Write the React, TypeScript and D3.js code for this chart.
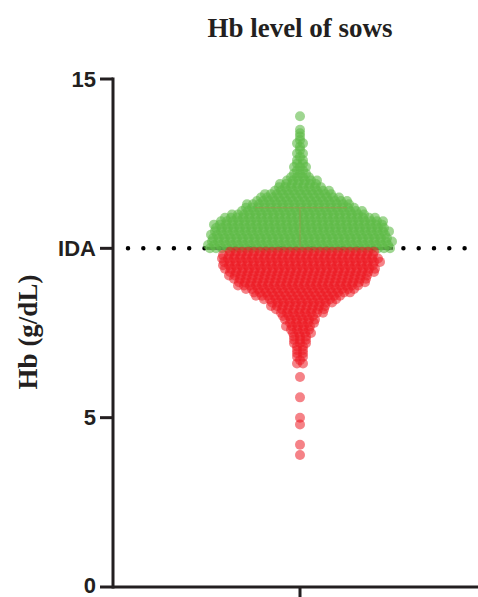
import React from 'react';
import * as d3 from 'd3';

const hbLevels = [
  13.9, 13.5, 13.4, 13.3, 13.2, 13.1, 13.0, 12.9, 12.8, 12.7, 12.6, 12.5, 12.4, 12.3, 12.2, 12.1,
  12.0, 11.9, 11.8, 11.7, 11.6, 11.5, 11.4, 11.3, 11.2, 11.1, 11.0, 10.9, 10.8, 10.7, 10.6, 10.5,
  10.4, 10.3, 10.2, 10.1, 10.0,
  9.9, 9.8, 9.7, 9.6, 9.5, 9.4, 9.3, 9.2, 9.1, 9.0, 8.9, 8.8, 8.7, 8.6, 8.5, 8.4, 8.3, 8.2, 8.1,
  8.0, 7.9, 7.8, 7.7, 7.6, 7.5, 7.4, 7.3, 7.2, 7.1, 7.0, 6.9, 6.8, 6.7, 6.6, 6.2, 5.6, 5.0, 4.8,
  4.2, 3.9,
];
const hbCounts = [
  1, 1, 1, 1, 1, 2, 1, 1, 2, 1, 2, 2, 3, 2, 3, 4,
  6, 7, 8, 10, 12, 14, 16, 18, 19, 21, 23, 26, 28, 29, 29, 30,
  30, 30, 31, 31, 31,
  25, 26, 27, 27, 26, 26, 25, 24, 23, 22, 21, 19, 17, 15, 13, 11, 10, 9, 8,
  6, 6, 5, 5, 4, 4, 3, 3, 3, 2, 2, 2, 2, 1, 2, 1, 1, 1, 1,
  1, 1,
];

const IDA = 10;
const yTicks = [0, 5, 10, 15];
const yTickLabels = ['0', '5', 'IDA', '15'];
const title = 'Hb level of sows';
const yTitle = 'Hb (g/dL)';

export default function App() {
  const width = 478;
  const height = 597;
  const axisX = 113;
  const centerX = 300;
  const y = d3.scaleLinear().domain([0, 15]).range([587, 79]);
  const r = 5;
  const step = 6;

  // lay each level out as a centred row, like Prism's scatter dot plot;
  // neighbouring rows are nudged so the dots don't line up in columns
  const nudge = [0, 2, -2];
  const dots: { cx: number; cy: number; v: number }[] = [];
  hbLevels.forEach((v, k) => {
    const n = hbCounts[k];
    const shift = n > 3 ? nudge[k % 3] : 0;
    for (let i = 0; i < n; i++) {
      dots.push({ cx: centerX + shift + (i - (n - 1) / 2) * step, cy: y(v), v });
    }
  });

  const ink = '#231f20';

  return (
    <svg
      width={width}
      height={height}
      style={{ position: 'absolute', left: 0, top: 0, background: '#fff' }}
    >
      <text
        x={centerX}
        y={37}
        textAnchor="middle"
        fontFamily="'Liberation Serif', 'Times New Roman', serif"
        fontWeight="bold"
        fontSize={27}
        fill={ink}
      >
        {title}
      </text>

      <text
        transform={`translate(37, ${332}) rotate(-90)`}
        textAnchor="middle"
        fontFamily="'Liberation Serif', 'Times New Roman', serif"
        fontWeight="bold"
        fontSize={27}
        fill={ink}
      >
        {yTitle}
      </text>

      {/* IDA cut-off */}
      <line
        x1={128}
        x2={width}
        y1={y(IDA)}
        y2={y(IDA)}
        stroke="#000"
        strokeWidth={4.5}
        strokeLinecap="round"
        strokeDasharray="0 15.3"
      />
      <line x1={207} x2={393} y1={y(IDA)} y2={y(IDA)} stroke={ink} strokeWidth={3} />

      {dots.map((d, i) => (
        <circle
          key={i}
          cx={d.cx}
          cy={d.cy}
          r={r}
          fill={d.v >= IDA ? '#5fba47' : '#ec1c24'}
          fillOpacity={d.v >= IDA ? 0.6 : 0.55}
        />
      ))}

      {/* faint error bar from the group summary */}
      <g stroke="#e0704a" strokeOpacity={0.35} strokeWidth={1}>
        <line x1={255} x2={347} y1={y(11.2)} y2={y(11.2)} />
        <line x1={centerX} x2={centerX} y1={y(11.2)} y2={y(IDA)} />
      </g>

      {/* axes */}
      <line x1={axisX} x2={axisX} y1={y(15) - 1.5} y2={y(0) + 1.5} stroke={ink} strokeWidth={3} />
      <line x1={axisX} x2={width} y1={y(0)} y2={y(0)} stroke={ink} strokeWidth={3} />
      <line x1={centerX} x2={centerX} y1={y(0)} y2={597} stroke={ink} strokeWidth={3} />
      {yTicks.map((t, i) => (
        <g key={t}>
          <line x1={100} x2={axisX} y1={y(t)} y2={y(t)} stroke={ink} strokeWidth={3} />
          <text
            x={96}
            y={y(t)}
            dy={t === 0 ? '0.27em' : '0.35em'}
            textAnchor="end"
            fontFamily="'Liberation Sans', Arial, sans-serif"
            fontWeight="bold"
            fontSize={22}
            fill={ink}
          >
            {yTickLabels[i]}
          </text>
        </g>
      ))}
    </svg>
  );
}
